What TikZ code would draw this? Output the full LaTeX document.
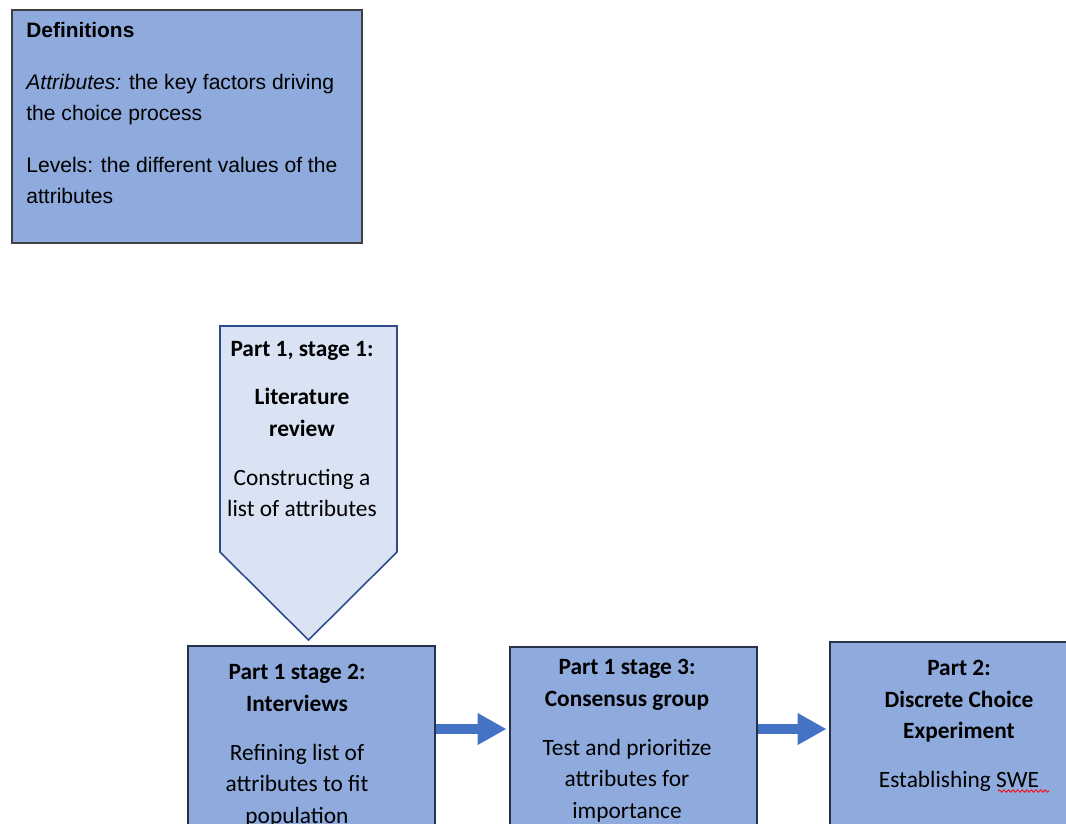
\documentclass[tikz,border=0pt]{standalone}
\usepackage{fontspec}
\setmainfont{Carlito}
\newfontfamily\deffont{Liberation Sans}
\usetikzlibrary{arrows.meta,positioning,decorations.pathmorphing}

\definecolor{boxblue}{HTML}{8FAADC}
\definecolor{paleblue}{HTML}{DAE3F3}
\definecolor{arrowblue}{HTML}{4472C4}
\definecolor{edgenavy}{HTML}{2F4A8A}
\definecolor{edgedark}{HTML}{26324A}

\begin{document}
\begin{tikzpicture}[x=0.02cm, y=-0.02cm,
  stagebox/.style={draw=edgedark, line width=0.9pt, fill=boxblue, anchor=north west, inner sep=0pt, minimum height=4cm},
  stagetext/.style={font=\fontsize{13.3}{17.9}\selectfont, align=center, anchor=north, inner sep=0pt},
  flow/.style={arrowblue, line width=0.2cm, -{Triangle[length=0.58cm, width=0.6cm]}, shorten >=0.05cm}]
  \useasboundingbox (0,0) rectangle (1066,823);

  % definitions
  \node[draw=black!75, line width=0.9pt, fill=boxblue, anchor=north west, minimum width=7cm, minimum height=4.66cm] (defs) at (11,9) {};
  \node[font=\deffont\fontsize{12}{17.6}\selectfont, align=left, anchor=north west, inner sep=0pt] (defstxt) at (26,22)
    {{\fontsize{11.9}{14}\selectfont\bfseries Definitions}\\[12pt]
     \textit{Attributes:} the key factors driving\\ the choice process\\[12pt]
     Levels: the different values of the\\ attributes};

  % part 1, stage 1
  \draw[draw=edgenavy, line width=0.9pt, fill=paleblue] (220,326) -- (397,326) -- (397,552) -- (308.5,640) coordinate (littip) -- (220,552) -- cycle;
  \node[stagetext] (s1txt) at (302,341)
    {\textbf{Part 1, stage 1:}\\[9.5pt] \textbf{Literature}\\ \textbf{review}\\[10pt] Constructing a\\ list of attributes};

  % boxes along the bottom
  \foreach \name/\x/\y/\w in {s2/187/645/4.94cm, s3/509/646/4.94cm, s4/829/641/5.2cm}
    \node[stagebox, minimum width=\w] (\name) at (\x,\y) {};
  \node[stagetext] (s2txt) at (297,664)
    {\textbf{Part 1 stage 2:}\\ \textbf{Interviews}\\[10pt] Refining list of\\ attributes to fit\\ population};
  \node[stagetext] (s3txt) at (627,659)
    {\textbf{Part 1 stage 3:}\\ \textbf{Consensus group}\\[10pt] Test and prioritize\\ attributes for\\ importance};
  \node[stagetext] (s4txt) at (959,660)
    {\textbf{Part 2:}\\ \textbf{Discrete Choice}\\ \textbf{Experiment}\\[10pt] Establishing SWE};
  \draw[red, line width=0.45pt, decorate, decoration={snake, amplitude=0.7pt, segment length=2.6pt}] (998,791) -- (1049,791);

  \coordinate (row) at (0,729);
  \draw[flow] (s2.east |- row) -- (s3.west |- row);
  \draw[flow] (s3.east |- row) -- (s4.west |- row);
\end{tikzpicture}
\end{document}
